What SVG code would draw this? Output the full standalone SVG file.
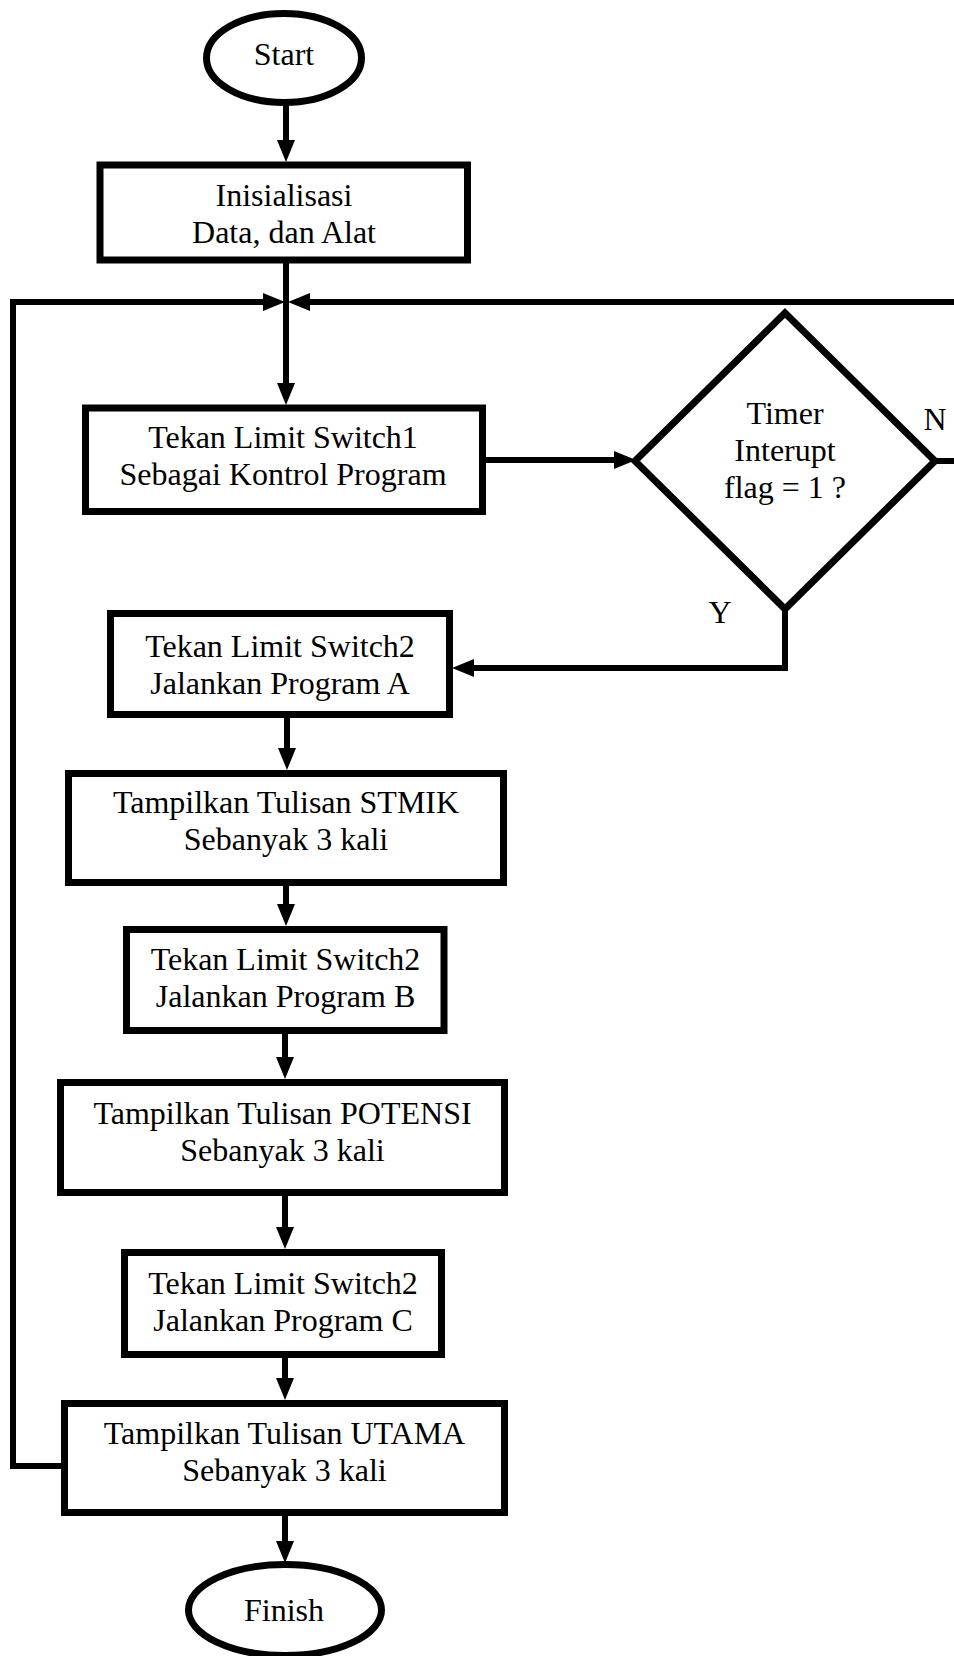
<svg xmlns="http://www.w3.org/2000/svg" width="954" height="1656" viewBox="0 0 954 1656">
<defs>
<style>
.box{fill:#fff;stroke:#000;stroke-width:7}
.ln{fill:none;stroke:#000;stroke-width:6}
.t{font-family:"Liberation Serif","Times New Roman",serif;font-size:32px;fill:#000;text-anchor:middle}
</style>
<marker id="ah" viewBox="0 0 22 18" refX="10" refY="9" markerWidth="22" markerHeight="18" markerUnits="userSpaceOnUse" orient="auto">
<path d="M0,0 L22,9 L0,18 Z" fill="#000"/>
</marker>
</defs>
<rect width="954" height="1656" fill="#fff"/>
<g id="connectors">
<path class="ln" d="M286,104 V150" marker-end="url(#ah)"/>
<path class="ln" d="M286,260 V393" marker-end="url(#ah)"/>
<path class="ln" d="M486,460 H624" marker-end="url(#ah)"/>
<path class="ln" d="M785,608 V668 H464" marker-end="url(#ah)"/>
<path class="ln" d="M287,718 V758" marker-end="url(#ah)"/>
<path class="ln" d="M286,886 V914" marker-end="url(#ah)"/>
<path class="ln" d="M285,1034 V1067" marker-end="url(#ah)"/>
<path class="ln" d="M285,1196 V1237" marker-end="url(#ah)"/>
<path class="ln" d="M285,1358 V1388" marker-end="url(#ah)"/>
<path class="ln" d="M285,1516 V1551" marker-end="url(#ah)"/>
<path class="ln" d="M62,1466 H13 V302 H273" marker-end="url(#ah)"/>
<path class="ln" d="M934,461 H962 V302 H300" marker-end="url(#ah)"/>
</g>
<g id="start">
<ellipse class="box" cx="284" cy="58" rx="77.5" ry="44.5"/>
<text class="t" x="284" y="65">Start</text>
</g>
<g id="init">
<rect class="box" x="100" y="165" width="367.5" height="95"/>
<text class="t" x="284" y="206">Inisialisasi</text>
<text class="t" x="284" y="243">Data, dan Alat</text>
</g>
<g id="tekan1">
<rect class="box" x="85.5" y="408" width="397" height="103.5"/>
<text class="t" x="283" y="448">Tekan Limit Switch1</text>
<text class="t" x="283" y="485">Sebagai Kontrol Program</text>
</g>
<g id="decision">
<polygon class="box" points="785,313 935,461 785,609 635,461"/>
<text class="t" x="785" y="424">Timer</text>
<text class="t" x="785" y="461">Interupt</text>
<text class="t" x="785" y="498">flag = 1 ?</text>
</g>
<g id="labelN"><text class="t" x="935" y="430">N</text></g>
<g id="labelY"><text class="t" x="720" y="623">Y</text></g>
<g id="tekan2a">
<rect class="box" x="110.5" y="613.5" width="339" height="101"/>
<text class="t" x="280" y="657">Tekan Limit Switch2</text>
<text class="t" x="280" y="694">Jalankan Program A</text>
</g>
<g id="stmik">
<rect class="box" x="68.5" y="773.5" width="435" height="109"/>
<text class="t" x="286" y="813">Tampilkan Tulisan STMIK</text>
<text class="t" x="286" y="850">Sebanyak 3 kali</text>
</g>
<g id="tekan2b">
<rect class="box" x="126.5" y="929.5" width="317.5" height="101"/>
<text class="t" x="285.5" y="970">Tekan Limit Switch2</text>
<text class="t" x="285.5" y="1007">Jalankan Program B</text>
</g>
<g id="potensi">
<rect class="box" x="60.5" y="1082.5" width="444" height="110"/>
<text class="t" x="282.5" y="1124">Tampilkan Tulisan POTENSI</text>
<text class="t" x="282.5" y="1161">Sebanyak 3 kali</text>
</g>
<g id="tekan2c">
<rect class="box" x="124.5" y="1252.5" width="317" height="102"/>
<text class="t" x="283" y="1294">Tekan Limit Switch2</text>
<text class="t" x="283" y="1331">Jalankan Program C</text>
</g>
<g id="utama">
<rect class="box" x="64.5" y="1403.5" width="440" height="109"/>
<text class="t" x="284.5" y="1444">Tampilkan Tulisan UTAMA</text>
<text class="t" x="284.5" y="1481">Sebanyak 3 kali</text>
</g>
<g id="finish">
<ellipse class="box" cx="285" cy="1610" rx="96.5" ry="45.5"/>
<text class="t" x="284" y="1621">Finish</text>
</g>
</svg>
